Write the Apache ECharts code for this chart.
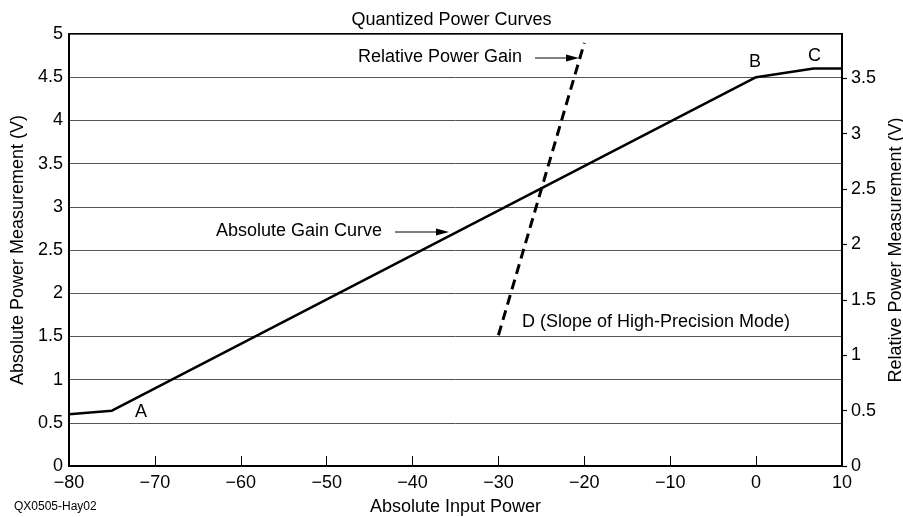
<!DOCTYPE html>
<html><head><meta charset="utf-8">
<script src="https://cdn.jsdelivr.net/npm/echarts@6/dist/echarts.min.js"></script>
<style>html,body{margin:0;padding:0;background:#fff;overflow:hidden}#c{width:903px;height:517px}</style>
</head><body><div id="c"></div>
<script>
const absInput = [-80, -75, 0, 6.7, 10];
const absMeasurement = [0.6, 0.64, 4.5, 4.6, 4.6];
const relInput = [-30, -20];
const relMeasurement = [1.18, 3.82];
const xTicks = [-80, -70, -60, -50, -40, -30, -20, -10, 0, 10];

const F = 'Liberation Sans, Arial, sans-serif';
const chart = echarts.init(document.getElementById('c'));
const minus = v => String(v).replace('-', '\u2212');

chart.setOption({
  animation: false,
  backgroundColor: '#fff',
  textStyle: { fontFamily: F },
  title: { text: 'Quantized Power Curves', left: 'center', top: 6,
    textStyle: { fontFamily: F, fontSize: 18, fontWeight: 'normal', color: '#000' } },
  grid: { left: 69, right: 61, top: 34, bottom: 51, show: true, borderColor: '#000', borderWidth: 2,
    containLabel: false, outerBoundsMode: 'none' },
  xAxis: {
    type: 'value', min: xTicks[0], max: xTicks[xTicks.length - 1], interval: 10,
    name: 'Absolute Input Power', nameLocation: 'middle', nameGap: 32,
    nameTextStyle: { fontFamily: F, fontSize: 18, color: '#000' },
    axisLine: { show: true, onZero: false, lineStyle: { color: '#000', width: 2 } },
    axisTick: { show: true, inside: true, length: 10, lineStyle: { color: '#000', width: 1 } },
    axisLabel: { fontFamily: F, fontSize: 18, color: '#000', margin: 8, formatter: minus },
    splitLine: { show: false }
  },
  yAxis: [{
    type: 'value', min: 0, max: 5, interval: 0.5, position: 'left',
    name: 'Absolute Power Measurement (V)', nameLocation: 'middle', nameGap: 38,
    nameTextStyle: { fontFamily: F, fontSize: 18, color: '#000' },
    axisLine: { show: true, onZero: false, lineStyle: { color: '#000', width: 2 } },
    axisTick: { show: false },
    axisLabel: { fontFamily: F, fontSize: 18, color: '#000', margin: 6 },
    splitLine: { show: true, lineStyle: { color: '#555', width: 1 } }
  }, {
    type: 'value', min: 0, max: 3.9, interval: 0.5, position: 'right',
    name: 'Relative Power Measurement (V)', nameLocation: 'middle', nameGap: 43,
    nameRotate: 90,
    nameTextStyle: { fontFamily: F, fontSize: 18, color: '#000' },
    axisLine: { show: true, onZero: false, lineStyle: { color: '#000', width: 2 } },
    axisTick: { show: true, length: 5, lineStyle: { color: '#000', width: 1.2 } },
    axisLabel: { fontFamily: F, fontSize: 18, color: '#000', margin: 9, showMaxLabel: false },
    splitLine: { show: false }
  }],
  series: [{
    type: 'line', yAxisIndex: 0, symbol: 'none',
    data: absInput.map((x, i) => [x, absMeasurement[i]]),
    lineStyle: { color: '#000', width: 2.5 }
  }, {
    type: 'line', yAxisIndex: 1, symbol: 'none',
    data: relInput.map((x, i) => [x, relMeasurement[i]]),
    lineStyle: { color: '#000', width: 3, type: [10, 6] }
  }],
  graphic: [
    { type: 'text', left: 358, top: 48, style: { text: 'Relative Power Gain', font: '18px ' + F, fill: '#000' } },
    { type: 'line', shape: { x1: 535, y1: 58, x2: 570, y2: 58 }, style: { stroke: '#000', lineWidth: 1 } },
    { type: 'polygon', shape: { points: [[579, 58], [566, 54.5], [566, 61.5]] }, style: { fill: '#000' } },
    { type: 'text', left: 216, top: 222, style: { text: 'Absolute Gain Curve', font: '18px ' + F, fill: '#000' } },
    { type: 'line', shape: { x1: 395, y1: 232, x2: 440, y2: 232 }, style: { stroke: '#000', lineWidth: 1 } },
    { type: 'polygon', shape: { points: [[449, 232], [436, 228.5], [436, 235.5]] }, style: { fill: '#000' } },
    { type: 'text', left: 522, top: 313, style: { text: 'D (Slope of High-Precision Mode)', font: '18px ' + F, fill: '#000' } },
    { type: 'text', left: 135, top: 403, style: { text: 'A', font: '18px ' + F, fill: '#000' } },
    { type: 'text', left: 749, top: 53, style: { text: 'B', font: '18px ' + F, fill: '#000' } },
    { type: 'text', left: 808, top: 47, style: { text: 'C', font: '18px ' + F, fill: '#000' } },
    { type: 'text', left: 14, top: 501, style: { text: 'QX0505-Hay02', font: '12px ' + F, fill: '#000' } }
  ]
});
</script></body></html>
